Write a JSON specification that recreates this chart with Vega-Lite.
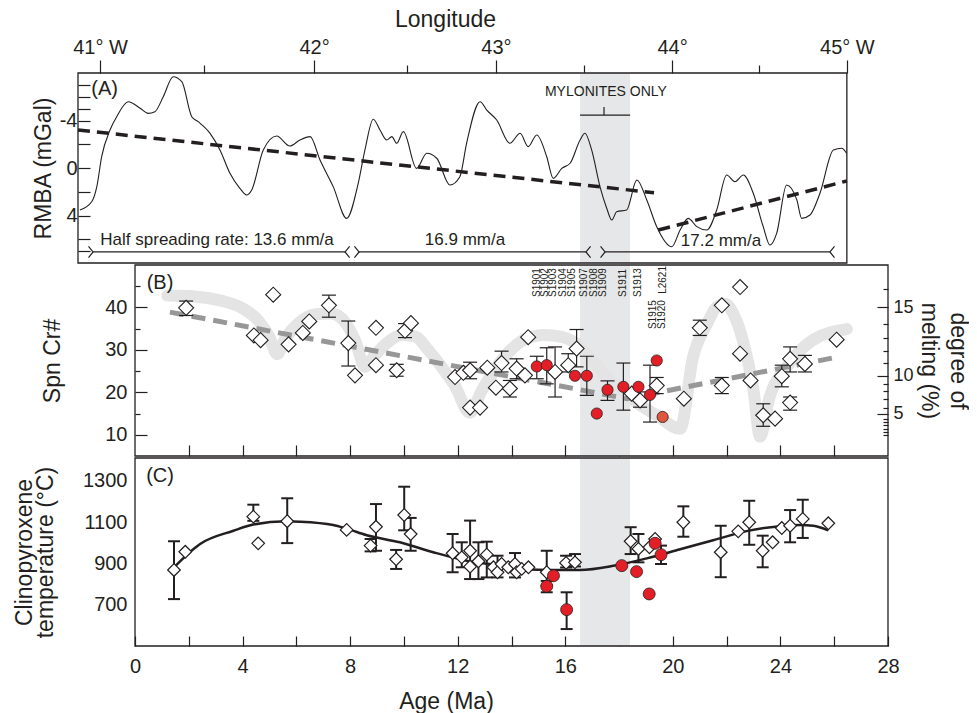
{
  "$schema": "https://vega.github.io/schema/vega-lite/v6.json",
  "padding": {"left": 13, "top": 8, "right": 0, "bottom": 0},
  "spacing": 0,
  "config": {
    "font": "Liberation Sans",
    "view": {"stroke": null},
    "axis": {
      "labelFont": "Liberation Sans", "titleFont": "Liberation Sans",
      "labelColor": "#231f20", "titleColor": "#231f20", "tickColor": "#231f20", "domainColor": "#231f20",
      "titleFontWeight": "normal", "labelFontSize": 20, "titleFontSize": 23, "grid": false, "tickWidth": 1.2
    },
    "text": {"font": "Liberation Sans", "color": "#231f20"}
  },
  "resolve": {"scale": {"x": "independent", "y": "independent"}},
  "datasets": {
    "rmba": [
      {"age": -2.05, "v": 3.54}, {"age": -1.61, "v": 2.84}, {"age": -1.42, "v": 1.57}, {"age": -1.24, "v": -0.95},
      {"age": -0.93, "v": -3.2}, {"age": -0.68, "v": -4.32}, {"age": -0.25, "v": -5.58}, {"age": 0.19, "v": -5.03},
      {"age": 0.49, "v": -4.6}, {"age": 0.74, "v": -4.74}, {"age": 1.05, "v": -6.0}, {"age": 1.42, "v": -7.69},
      {"age": 1.74, "v": -7.27}, {"age": 2.11, "v": -4.32}, {"age": 2.35, "v": -3.9}, {"age": 2.79, "v": -2.92},
      {"age": 3.16, "v": -1.52}, {"age": 3.53, "v": 0.45}, {"age": 3.9, "v": 1.71}, {"age": 4.15, "v": 2.27},
      {"age": 4.34, "v": 1.85}, {"age": 4.77, "v": -1.52}, {"age": 5.27, "v": -2.69}, {"age": 5.76, "v": -1.85},
      {"age": 6.13, "v": -2.36}, {"age": 6.51, "v": -2.64}, {"age": 6.88, "v": -0.67}, {"age": 7.37, "v": 1.57},
      {"age": 7.87, "v": 4.24}, {"age": 8.3, "v": 1.29}, {"age": 8.55, "v": -1.52}, {"age": 8.86, "v": -4.1},
      {"age": 9.11, "v": -3.2}, {"age": 9.36, "v": -2.36}, {"age": 9.55, "v": -2.64}, {"age": 9.73, "v": -2.08},
      {"age": 9.98, "v": -3.06}, {"age": 10.47, "v": 0.03}, {"age": 10.85, "v": -1.24}, {"age": 11.22, "v": -0.82},
      {"age": 11.71, "v": 1.43}, {"age": 12.08, "v": 0.73}, {"age": 12.33, "v": -2.08}, {"age": 12.83, "v": -5.58},
      {"age": 13.08, "v": -4.88}, {"age": 13.45, "v": -4.04}, {"age": 13.94, "v": -2.08}, {"age": 14.32, "v": -2.92},
      {"age": 14.62, "v": -1.8}, {"age": 14.94, "v": -2.78}, {"age": 15.31, "v": -0.95}, {"age": 15.55, "v": 0.87},
      {"age": 15.87, "v": 0.03}, {"age": 16.18, "v": -0.4}, {"age": 16.55, "v": -2.36}, {"age": 16.73, "v": -2.92},
      {"age": 16.98, "v": -1.52}, {"age": 17.29, "v": 1.57}, {"age": 17.54, "v": 3.39}, {"age": 17.73, "v": 4.38},
      {"age": 17.91, "v": 3.68}, {"age": 18.28, "v": 3.54}, {"age": 18.66, "v": 1.01}, {"age": 19.03, "v": 2.69},
      {"age": 19.4, "v": 4.94}, {"age": 19.96, "v": 6.63}, {"age": 20.27, "v": 5.22}, {"age": 20.57, "v": 4.24},
      {"age": 20.89, "v": 4.94}, {"age": 21.26, "v": 5.22}, {"age": 21.63, "v": 3.54}, {"age": 22.0, "v": 0.59},
      {"age": 22.31, "v": 1.15}, {"age": 22.62, "v": 0.59}, {"age": 22.99, "v": 2.13}, {"age": 23.36, "v": 4.94},
      {"age": 23.61, "v": 6.48}, {"age": 23.86, "v": 5.5}, {"age": 24.23, "v": 1.43}, {"age": 24.61, "v": 2.69},
      {"age": 24.79, "v": 4.24}, {"age": 25.1, "v": 3.96}, {"age": 25.47, "v": 2.13}, {"age": 25.97, "v": -1.52},
      {"age": 26.28, "v": -1.66}, {"age": 26.46, "v": -1.24}
    ],
    "spn": [
      {"age": 1.9, "v": 39.9, "lo": 38.1, "hi": 41.5, "kind": "d"},
      {"age": 5.14, "v": 43.0, "kind": "d"},
      {"age": 4.42, "v": 33.4, "kind": "d"},
      {"age": 4.67, "v": 32.3, "kind": "d"},
      {"age": 5.71, "v": 31.3, "kind": "d"},
      {"age": 6.24, "v": 34.0, "kind": "d"},
      {"age": 6.48, "v": 36.7, "kind": "d"},
      {"age": 7.21, "v": 40.5, "lo": 37.7, "hi": 42.9, "kind": "d"},
      {"age": 7.93, "v": 31.6, "lo": 26.2, "hi": 36.8, "kind": "d"},
      {"age": 8.18, "v": 24.0, "kind": "d"},
      {"age": 8.96, "v": 35.2, "kind": "d"},
      {"age": 8.96, "v": 26.4, "kind": "d"},
      {"age": 9.73, "v": 25.2, "lo": 23.8, "hi": 26.6, "kind": "d"},
      {"age": 10.04, "v": 34.5, "lo": 32.9, "hi": 36.2, "kind": "d"},
      {"age": 10.26, "v": 36.3, "kind": "d"},
      {"age": 11.9, "v": 23.6, "kind": "d"},
      {"age": 12.21, "v": 24.6, "kind": "d"},
      {"age": 12.46, "v": 25.2, "lo": 23.2, "hi": 27.1, "kind": "d"},
      {"age": 12.46, "v": 16.4, "kind": "d"},
      {"age": 12.83, "v": 16.4, "kind": "d"},
      {"age": 13.1, "v": 25.8, "kind": "d"},
      {"age": 13.42, "v": 21.1, "kind": "d"},
      {"age": 13.63, "v": 26.9, "lo": 24.8, "hi": 29.7, "kind": "d"},
      {"age": 13.94, "v": 20.9, "lo": 18.9, "hi": 22.8, "kind": "d"},
      {"age": 14.19, "v": 25.6, "lo": 23.2, "hi": 27.9, "kind": "d"},
      {"age": 14.5, "v": 24.0, "kind": "d"},
      {"age": 14.62, "v": 33.0, "kind": "d"},
      {"age": 15.62, "v": 24.8, "lo": 18.9, "hi": 30.7, "kind": "d"},
      {"age": 16.11, "v": 26.4, "lo": 24.8, "hi": 29.1, "kind": "d"},
      {"age": 16.42, "v": 30.3, "lo": 26.0, "hi": 34.8, "kind": "d"},
      {"age": 18.47, "v": 19.7, "kind": "d"},
      {"age": 18.78, "v": 18.1, "lo": 16.5, "hi": 20.1, "kind": "d"},
      {"age": 19.4, "v": 21.6, "lo": 19.7, "hi": 23.5, "kind": "d"},
      {"age": 20.41, "v": 18.5, "kind": "d"},
      {"age": 21.0, "v": 35.2, "lo": 33.4, "hi": 37.0, "kind": "d"},
      {"age": 21.82, "v": 40.5, "kind": "d"},
      {"age": 22.5, "v": 44.8, "kind": "d"},
      {"age": 22.5, "v": 29.1, "kind": "d"},
      {"age": 21.82, "v": 21.6, "lo": 19.7, "hi": 23.5, "kind": "d"},
      {"age": 22.89, "v": 22.8, "kind": "d"},
      {"age": 23.36, "v": 14.6, "lo": 12.0, "hi": 17.3, "kind": "d"},
      {"age": 23.8, "v": 13.8, "kind": "d"},
      {"age": 24.05, "v": 23.8, "lo": 21.3, "hi": 26.4, "kind": "d"},
      {"age": 24.36, "v": 27.9, "lo": 24.8, "hi": 30.7, "kind": "d"},
      {"age": 24.36, "v": 17.6, "lo": 15.8, "hi": 18.9, "kind": "d"},
      {"age": 24.91, "v": 26.7, "lo": 24.8, "hi": 28.7, "kind": "d"},
      {"age": 26.09, "v": 32.4, "kind": "d"},
      {"age": 14.94, "v": 26.1, "lo": 23.2, "hi": 28.5, "kind": "a"},
      {"age": 15.31, "v": 26.4, "lo": 22.0, "hi": 30.5, "kind": "a"},
      {"age": 16.36, "v": 23.9, "kind": "a"},
      {"age": 16.8, "v": 23.9, "lo": 19.3, "hi": 28.5, "kind": "a"},
      {"age": 17.17, "v": 15.0, "kind": "a"},
      {"age": 17.57, "v": 20.6, "lo": 18.1, "hi": 22.7, "kind": "a"},
      {"age": 18.16, "v": 21.3, "lo": 15.8, "hi": 26.9, "kind": "a"},
      {"age": 18.72, "v": 21.3, "kind": "a"},
      {"age": 19.15, "v": 19.4, "lo": 13.0, "hi": 26.4, "kind": "a"},
      {"age": 19.4, "v": 27.5, "kind": "a"},
      {"age": 19.62, "v": 14.2, "kind": "b"}
    ],
    "melt": [
      {"age": 1.2, "v": 42.8}, {"age": 2.2, "v": 42.6}, {"age": 3.2, "v": 41.6}, {"age": 4.0, "v": 39.8},
      {"age": 4.6, "v": 36.8}, {"age": 5.0, "v": 33.0}, {"age": 5.28, "v": 29.0}, {"age": 5.6, "v": 32.8},
      {"age": 6.1, "v": 36.4}, {"age": 6.7, "v": 38.4}, {"age": 7.3, "v": 38.6}, {"age": 7.8, "v": 36.6},
      {"age": 8.2, "v": 32.0}, {"age": 8.55, "v": 26.0}, {"age": 8.9, "v": 28.6}, {"age": 9.4, "v": 31.8},
      {"age": 9.9, "v": 33.5}, {"age": 10.4, "v": 33.2}, {"age": 10.9, "v": 30.0}, {"age": 11.4, "v": 26.0},
      {"age": 11.9, "v": 21.5}, {"age": 12.45, "v": 15.2}, {"age": 12.9, "v": 20.5}, {"age": 13.4, "v": 25.5},
      {"age": 13.9, "v": 29.5}, {"age": 14.5, "v": 32.5}, {"age": 15.2, "v": 33.5}, {"age": 15.9, "v": 33.0},
      {"age": 16.5, "v": 31.0}, {"age": 17.0, "v": 27.5}, {"age": 17.8, "v": 22.0}, {"age": 18.6, "v": 17.8},
      {"age": 19.4, "v": 14.6}, {"age": 20.27, "v": 11.4}, {"age": 20.75, "v": 28.3}, {"age": 21.27, "v": 36.1},
      {"age": 21.64, "v": 40.2}, {"age": 21.95, "v": 40.8}, {"age": 22.25, "v": 38.5}, {"age": 22.6, "v": 32.3},
      {"age": 23.0, "v": 20.5}, {"age": 23.24, "v": 9.6}, {"age": 23.6, "v": 18.9}, {"age": 24.24, "v": 26.0},
      {"age": 25.2, "v": 32.3}, {"age": 26.47, "v": 34.9}
    ],
    "trendB": [{"age": 1.3, "v": 38.9}, {"age": 18.3, "v": 18.5}, {"age": 26.1, "v": 28.3}],
    "samples": [
      {"age": 14.94, "v": 42.46, "name": "S1901"}, {"age": 15.25, "v": 42.46, "name": "S1902"},
      {"age": 15.55, "v": 42.46, "name": "S1903"}, {"age": 15.9, "v": 42.46, "name": "S1904"},
      {"age": 16.24, "v": 42.46, "name": "S1905"}, {"age": 16.7, "v": 42.46, "name": "S1907"},
      {"age": 17.07, "v": 42.46, "name": "S1908"}, {"age": 17.41, "v": 42.46, "name": "S1909"},
      {"age": 18.16, "v": 42.46, "name": "S1911"}, {"age": 18.72, "v": 42.46, "name": "S1913"},
      {"age": 19.64, "v": 43.2, "name": "L2621"}, {"age": 19.25, "v": 34.9, "name": "S1915"},
      {"age": 19.58, "v": 34.9, "name": "S1920"}
    ],
    "cpx": [
      {"age": 1.45, "v": 868, "lo": 727, "hi": 1007, "kind": "d"},
      {"age": 1.87, "v": 956, "kind": "d"},
      {"age": 4.4, "v": 1126, "lo": 1106, "hi": 1184, "kind": "d"},
      {"age": 4.58, "v": 997, "kind": "d"},
      {"age": 5.66, "v": 1104, "lo": 998, "hi": 1215, "kind": "d"},
      {"age": 7.87, "v": 1062, "kind": "d"},
      {"age": 8.76, "v": 986, "lo": 958, "hi": 1018, "kind": "d"},
      {"age": 8.96, "v": 1077, "lo": 961, "hi": 1187, "kind": "d"},
      {"age": 9.71, "v": 920, "lo": 873, "hi": 965, "kind": "d"},
      {"age": 10.01, "v": 1134, "lo": 1060, "hi": 1271, "kind": "d"},
      {"age": 10.25, "v": 1042, "lo": 961, "hi": 1120, "kind": "d"},
      {"age": 11.81, "v": 949, "lo": 857, "hi": 1042, "kind": "d"},
      {"age": 12.15, "v": 929, "lo": 881, "hi": 1002, "kind": "d"},
      {"age": 12.46, "v": 961, "lo": 824, "hi": 1107, "kind": "d"},
      {"age": 12.46, "v": 884, "kind": "d"},
      {"age": 12.77, "v": 910, "lo": 824, "hi": 1002, "kind": "d"},
      {"age": 13.08, "v": 942, "lo": 832, "hi": 1005, "kind": "d"},
      {"age": 13.33, "v": 881, "kind": "d"},
      {"age": 13.48, "v": 857, "lo": 832, "hi": 937, "kind": "d"},
      {"age": 13.63, "v": 897, "kind": "d"},
      {"age": 13.88, "v": 881, "kind": "d"},
      {"age": 14.13, "v": 897, "lo": 832, "hi": 950, "kind": "d"},
      {"age": 14.19, "v": 857, "kind": "d"},
      {"age": 14.38, "v": 873, "kind": "d"},
      {"age": 14.63, "v": 881, "kind": "d"},
      {"age": 15.31, "v": 857, "lo": 792, "hi": 961, "kind": "d"},
      {"age": 16.03, "v": 902, "lo": 880, "hi": 937, "kind": "d"},
      {"age": 16.36, "v": 905, "lo": 885, "hi": 945, "kind": "d"},
      {"age": 18.43, "v": 1007, "lo": 945, "hi": 1075, "kind": "d"},
      {"age": 18.72, "v": 970, "lo": 905, "hi": 1042, "kind": "d"},
      {"age": 19.13, "v": 978, "kind": "d"},
      {"age": 19.34, "v": 1018, "kind": "d"},
      {"age": 20.39, "v": 1099, "lo": 1029, "hi": 1176, "kind": "d"},
      {"age": 21.78, "v": 954, "lo": 833, "hi": 1082, "kind": "d"},
      {"age": 22.43, "v": 1055, "kind": "d"},
      {"age": 22.84, "v": 1099, "lo": 990, "hi": 1203, "kind": "d"},
      {"age": 23.34, "v": 961, "lo": 881, "hi": 1034, "kind": "d"},
      {"age": 23.71, "v": 1002, "kind": "d"},
      {"age": 24.05, "v": 1071, "kind": "d"},
      {"age": 24.36, "v": 1082, "lo": 1002, "hi": 1158, "kind": "d"},
      {"age": 24.83, "v": 1115, "lo": 1023, "hi": 1208, "kind": "d"},
      {"age": 25.78, "v": 1094, "kind": "d"},
      {"age": 15.31, "v": 789, "lo": 760, "hi": 815, "kind": "a"},
      {"age": 15.56, "v": 840, "kind": "a"},
      {"age": 16.05, "v": 676, "lo": 582, "hi": 760, "kind": "a"},
      {"age": 18.1, "v": 889, "kind": "a"},
      {"age": 18.65, "v": 860, "kind": "a"},
      {"age": 19.12, "v": 752, "kind": "a"},
      {"age": 19.34, "v": 997, "kind": "a"},
      {"age": 19.56, "v": 942, "lo": 897, "hi": 986, "kind": "a"}
    ],
    "cpxfit": [
      {"age": 1.45, "v": 881}, {"age": 2.42, "v": 994}, {"age": 3.66, "v": 1058}, {"age": 4.4, "v": 1088},
      {"age": 5.64, "v": 1104}, {"age": 6.14, "v": 1102}, {"age": 7.37, "v": 1086}, {"age": 7.87, "v": 1068},
      {"age": 8.62, "v": 1036}, {"age": 9.85, "v": 1002}, {"age": 11.09, "v": 954}, {"age": 12.33, "v": 913},
      {"age": 13.57, "v": 889}, {"age": 14.06, "v": 877}, {"age": 15.31, "v": 868}, {"age": 16.55, "v": 868},
      {"age": 17.79, "v": 888}, {"age": 19.03, "v": 924}, {"age": 20.27, "v": 968}, {"age": 21.5, "v": 1012},
      {"age": 22.74, "v": 1056}, {"age": 23.98, "v": 1080}, {"age": 24.73, "v": 1086}, {"age": 25.22, "v": 1082},
      {"age": 25.78, "v": 1060}
    ]
  },
  "vconcat": [
    {
      "width": 810, "height": 190,
      "encoding": {
        "x": {"field": "age", "type": "quantitative", "scale": {"domain": [-2.12, 28], "nice": false, "zero": false},
          "axis": {"orient": "top", "title": "Longitude", "titleX": 367, "titlePadding": 6, "labelPadding": 3, "labelFlush": false, "domain": false,
            "values": [-1.3, 2.57, 6.66, 10.11, 13.42, 16.7, 19.97, 23.2, 26.47],
            "labelExpr": "datum.value < 0 ? '41° W' : (datum.value > 6.6 && datum.value < 6.7) ? '42°' : (datum.value > 13.4 && datum.value < 13.5) ? '43°' : (datum.value > 19.9 && datum.value < 20) ? '44°' : datum.value > 26 ? '45° W' : ''",
            "tickSize": {"condition": {"test": "datum.value < 0 || (datum.value > 6.6 && datum.value < 6.7) || (datum.value > 13.4 && datum.value < 13.5) || (datum.value > 19.9 && datum.value < 20) || datum.value > 26", "value": 13}, "value": 8}}},
        "y": {"field": "v", "type": "quantitative", "scale": {"domain": [-8, 8], "reverse": true, "nice": false, "zero": false},
          "axis": {"title": "RMBA (mGal)", "domain": false, "values": [-7, -6, -5, -4, -2, 0, 2, 4, 6, 7], "tickSize": -12, "labelPadding": 13, "titlePadding": 4,
            "labelExpr": "datum.value == -4 ? '-4' : datum.value == 0 ? '0' : datum.value == 4 ? '4' : ''"}}
      },
      "layer": [
        {"data": {"values": [{"age": 16.55, "age2": 18.41, "v": -8, "v2": 8}]}, "mark": {"type": "rect", "fill": "#e6e7e8"},
          "encoding": {"x2": {"field": "age2"}, "y2": {"field": "v2"}}},
        {"data": {"values": [{"age": -2.12, "age2": 26.47, "v": -8, "v2": 8}]}, "mark": {"type": "rect", "fill": null, "stroke": "#231f20", "strokeWidth": 1.3},
          "encoding": {"x2": {"field": "age2"}, "y2": {"field": "v2"}}},
        {"data": {"name": "rmba"}, "mark": {"type": "line", "color": "#231f20", "strokeWidth": 1.1, "interpolate": "monotone"}, "encoding": {}},
        {"data": {"values": [{"seg": 1, "age": -2.12, "v": -3.2}, {"seg": 1, "age": 19.3, "v": 2.08}, {"seg": 2, "age": 19.46, "v": 5.22}, {"seg": 2, "age": 26.47, "v": 1.09}]},
          "mark": {"type": "line", "color": "#231f20", "strokeWidth": 3.5, "strokeDash": [12, 7]}, "encoding": {"detail": {"field": "seg"}}},
        {"data": {"values": [
            {"age": 16.55, "age2": 18.41, "v": -4.46, "v2": -4.46}, {"age": 17.44, "age2": 17.44, "v": -4.46, "v2": -5.14},
            {"age": -1.56, "age2": 7.81, "v": 7.07, "v2": 7.07}, {"age": 8.33, "age2": 16.77, "v": 7.07, "v2": 7.07}, {"age": 17.48, "age2": 25.84, "v": 7.07, "v2": 7.07}]},
          "mark": {"type": "rule", "color": "#231f20", "strokeWidth": 1.2}, "encoding": {"x2": {"field": "age2"}, "y2": {"field": "v2"}}},
        {"data": {"values": [
            {"age": -1.56, "v": 7.07, "end": "start"}, {"age": 7.81, "v": 7.07, "end": "end"},
            {"age": 8.33, "v": 7.07, "end": "start"}, {"age": 16.77, "v": 7.07, "end": "end"},
            {"age": 17.48, "v": 7.07, "end": "start"}, {"age": 25.84, "v": 7.07, "end": "end"}]},
          "mark": {"type": "point", "filled": false, "stroke": "#231f20", "strokeWidth": 1.2, "size": 130, "opacity": 1},
          "encoding": {"shape": {"field": "end", "type": "nominal", "legend": null,
            "scale": {"domain": ["start", "end"], "range": ["M-0.8,-1L0,0L-0.8,1", "M0.8,-1L0,0L0.8,1"]}}}},
        {"data": {"values": [{"age": 3.05, "v": 6.06, "t": "Half spreading rate: 13.6 mm/a"}, {"age": 12.27, "v": 6.06, "t": "16.9 mm/a"}, {"age": 21.79, "v": 6.15, "t": "17.2 mm/a"}]},
          "mark": {"type": "text", "fontSize": 17, "baseline": "middle", "align": "center"}, "encoding": {"text": {"field": "t"}}},
        {"data": {"values": [{"age": 17.51, "v": -6.4, "t": "MYLONITES ONLY"}]},
          "mark": {"type": "text", "fontSize": 14, "baseline": "middle", "align": "center"}, "encoding": {"text": {"field": "t"}}},
        {"data": {"values": [{"age": -1.13, "v": -6.65, "t": "(A)"}]},
          "mark": {"type": "text", "fontSize": 20, "baseline": "middle", "align": "center"}, "encoding": {"text": {"field": "t"}}}
      ]
    },
    {
      "width": 810, "height": 191,
      "encoding": {
        "x": {"field": "age", "type": "quantitative", "scale": {"domain": [-2.12, 28], "nice": false, "zero": false},
          "axis": {"orient": "bottom", "title": null, "labels": false, "domain": false, "tickSize": -11, "values": [2, 4, 6, 8, 10, 12, 14, 16, 18, 20, 22, 24, 26]}},
        "y": {"field": "v", "type": "quantitative", "scale": {"domain": [5, 50], "nice": false, "zero": false},
          "axis": {"title": "Spn Cr#", "offset": -57, "domain": false, "values": [10, 15, 20, 25, 30, 35, 40, 45], "labelPadding": 20, "titlePadding": 40,
            "labelExpr": "datum.value % 10 === 0 ? datum.label : ''",
            "tickSize": {"condition": {"test": "datum.value % 10 === 0", "value": -12}, "value": -5}}}
      },
      "layer": [
        {"layer": [
          {"data": {"values": [{"age": 16.55, "age2": 18.41, "v": 5, "v2": 50}]}, "mark": {"type": "rect", "fill": "#e6e7e8"},
            "encoding": {"x2": {"field": "age2"}, "y2": {"field": "v2"}}},
          {"data": {"name": "melt"}, "mark": {"type": "line", "color": "#e4e4e4", "strokeWidth": 12, "strokeCap": "round", "strokeJoin": "round", "interpolate": "monotone"}, "encoding": {}},
          {"data": {"name": "trendB"}, "mark": {"type": "line", "color": "#979797", "strokeWidth": 5, "strokeDash": [14, 8]}, "encoding": {}},
          {"data": {"name": "spn"}, "transform": [{"filter": "isValid(datum.lo)"}],
            "mark": {"type": "rule", "color": "#231f20", "strokeWidth": 1.2}, "encoding": {"y": {"field": "lo", "type": "quantitative"}, "y2": {"field": "hi"}}},
          {"data": {"name": "spn"}, "transform": [{"filter": "isValid(datum.lo)"}],
            "mark": {"type": "tick", "orient": "horizontal", "color": "#231f20", "size": 14, "thickness": 1.2, "opacity": 1}, "encoding": {"y": {"field": "lo", "type": "quantitative"}}},
          {"data": {"name": "spn"}, "transform": [{"filter": "isValid(datum.lo)"}],
            "mark": {"type": "tick", "orient": "horizontal", "color": "#231f20", "size": 14, "thickness": 1.2, "opacity": 1}, "encoding": {"y": {"field": "hi", "type": "quantitative"}}},
          {"data": {"name": "spn"}, "transform": [{"filter": "datum.kind == 'd'"}],
            "mark": {"type": "point", "shape": "diamond", "size": 225, "filled": true, "fill": "white", "stroke": "#231f20", "strokeWidth": 1.1, "opacity": 1}, "encoding": {}},
          {"data": {"name": "spn"}, "transform": [{"filter": "datum.kind != 'd'"}],
            "mark": {"type": "point", "shape": "circle", "size": 125, "filled": true, "stroke": "#231f20", "strokeWidth": 0.8, "opacity": 1},
            "encoding": {"fill": {"field": "kind", "type": "nominal", "legend": null, "scale": {"domain": ["a", "b"], "range": ["#e41e26", "#e0553c"]}}}},
          {"data": {"name": "samples"}, "mark": {"type": "text", "fontSize": 10, "angle": 270, "align": "left", "baseline": "middle"},
            "encoding": {"text": {"field": "name"}}},
          {"data": {"values": [{"age": 0.93, "v": 45.76, "t": "(B)"}]},
            "mark": {"type": "text", "fontSize": 20, "baseline": "middle", "align": "center"}, "encoding": {"text": {"field": "t"}}}
        ]},
        {"data": {"values": [{"age": 0, "age2": 28, "v": 5, "v2": 50}]}, "mark": {"type": "rect", "fill": null, "stroke": "#231f20", "strokeWidth": 1.3},
          "encoding": {"x2": {"field": "age2"}, "y2": {"field": "v2"},
            "y": {"field": "v", "type": "quantitative", "scale": {"domain": [5, 50], "nice": false, "zero": false},
              "axis": {"orient": "right", "title": ["degree of", "melting (%)"], "domain": false, "labelPadding": 16, "labelFontSize": 18, "titlePadding": 3, "titleLineHeight": 29,
                "values": [44.3, 40.1, 36.2, 32.8, 29.7, 26.9, 23.9, 22.0, 20.2, 18.5, 16.4, 14.9, 13.8, 13.0, 12.2, 11.4, 10.6, 9.9],
                "labelExpr": "datum.value == 40.1 ? '15' : datum.value == 23.9 ? '10' : datum.value == 14.9 ? '5' : ''",
                "tickSize": {"condition": {"test": "datum.value == 40.1 || datum.value == 23.9 || datum.value == 14.9", "value": -11}, "value": -5}}}}}
      ],
      "resolve": {"axis": {"y": "independent"}}
    },
    {
      "width": 810, "height": 188,
      "encoding": {
        "x": {"field": "age", "type": "quantitative", "scale": {"domain": [-2.12, 28], "nice": false, "zero": false},
          "axis": {"orient": "bottom", "title": "Age (Ma)", "titleX": 368, "titlePadding": 14, "labelPadding": 20, "labelFlush": false, "domain": false, "tickSize": -10,
            "values": [0, 2, 4, 6, 8, 10, 12, 14, 16, 18, 20, 22, 24, 26, 28],
            "labelExpr": "datum.value % 4 === 0 ? datum.label : ''"}},
        "y": {"field": "v", "type": "quantitative", "scale": {"domain": [500, 1410], "nice": false, "zero": false},
          "axis": {"title": ["Clinopyroxene", "temperature (°C)"], "titleLineHeight": 21, "offset": -57, "domain": false, "ticks": false, "labelPadding": 8, "titlePadding": 25,
            "format": "d", "values": [700, 900, 1100, 1300]}}
      },
      "layer": [
        {"data": {"values": [{"age": 16.55, "age2": 18.41, "v": 500, "v2": 1410}]}, "mark": {"type": "rect", "fill": "#e6e7e8"},
          "encoding": {"x2": {"field": "age2"}, "y2": {"field": "v2"}}},
        {"data": {"values": [{"age": 0, "age2": 28, "v": 500, "v2": 1410}]}, "mark": {"type": "rect", "fill": null, "stroke": "#231f20", "strokeWidth": 1.3},
          "encoding": {"x2": {"field": "age2"}, "y2": {"field": "v2"}}},
        {"data": {"name": "cpxfit"}, "mark": {"type": "line", "color": "#231f20", "strokeWidth": 2.5, "interpolate": "monotone"}, "encoding": {}},
        {"data": {"name": "cpx"}, "transform": [{"filter": "isValid(datum.lo)"}],
          "mark": {"type": "rule", "color": "#231f20", "strokeWidth": 2}, "encoding": {"y": {"field": "lo", "type": "quantitative"}, "y2": {"field": "hi"}}},
        {"data": {"name": "cpx"}, "transform": [{"filter": "isValid(datum.lo)"}],
          "mark": {"type": "tick", "orient": "horizontal", "color": "#231f20", "size": 12, "thickness": 2, "opacity": 1}, "encoding": {"y": {"field": "lo", "type": "quantitative"}}},
        {"data": {"name": "cpx"}, "transform": [{"filter": "isValid(datum.lo)"}],
          "mark": {"type": "tick", "orient": "horizontal", "color": "#231f20", "size": 12, "thickness": 2, "opacity": 1}, "encoding": {"y": {"field": "hi", "type": "quantitative"}}},
        {"data": {"name": "cpx"}, "transform": [{"filter": "datum.kind == 'd'"}],
          "mark": {"type": "point", "shape": "diamond", "size": 160, "filled": true, "fill": "white", "stroke": "#231f20", "strokeWidth": 1.2, "opacity": 1}, "encoding": {}},
        {"data": {"name": "cpx"}, "transform": [{"filter": "datum.kind != 'd'"}],
          "mark": {"type": "point", "shape": "circle", "size": 144, "filled": true, "fill": "#e41e26", "stroke": "#231f20", "strokeWidth": 0.8, "opacity": 1}, "encoding": {}},
        {"data": {"values": [{"age": 0.93, "v": 1322.8, "t": "(C)"}]},
          "mark": {"type": "text", "fontSize": 20, "baseline": "middle", "align": "center"}, "encoding": {"text": {"field": "t"}}}
      ]
    }
  ]
}
